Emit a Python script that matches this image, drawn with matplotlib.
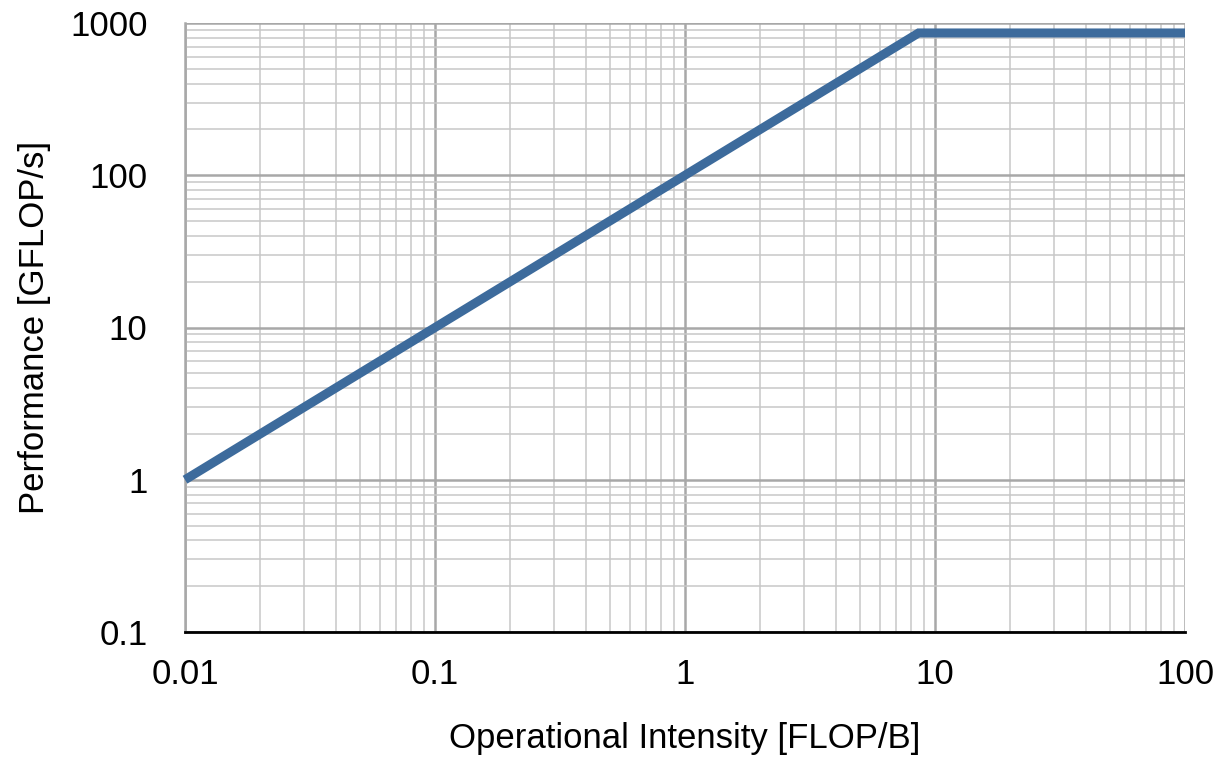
import numpy as np
import matplotlib
matplotlib.use("Agg")
import matplotlib.pyplot as plt
from matplotlib.ticker import LogLocator, FixedLocator, NullFormatter

# roofline: memory bound slope then compute ceiling
intensity = [0.01, 8.6, 100]
performance = [1, 860, 860]

x_ticks = [0.01, 0.1, 1, 10, 100]
x_labels = ["0.01", "0.1", "1", "10", "100"]
y_ticks = [0.1, 1, 10, 100, 1000]
y_labels = ["0.1", "1", "10", "100", "1000"]

plt.rcParams['font.family'] = ['Liberation Sans', 'DejaVu Sans']

fig = plt.figure(figsize=(12.29, 7.58), dpi=100)
ax = fig.add_axes([185/1229, 1-632/758, 1000/1229, 609/758])

ax.plot(intensity, performance, color='#3d6b9c', lw=6.5, solid_joinstyle='miter',
        solid_capstyle='butt', zorder=5, clip_on=False)

ax.set_xscale('log')
ax.set_yscale('log')
ax.set_xlim(0.01, 100)
ax.set_ylim(0.1, 1000)

ax.xaxis.set_major_locator(FixedLocator(x_ticks))
ax.set_xticklabels(x_labels)
ax.yaxis.set_major_locator(FixedLocator(y_ticks))
ax.set_yticklabels(y_labels)
ax.xaxis.set_minor_locator(LogLocator(base=10, subs=np.arange(2, 10)))
ax.yaxis.set_minor_locator(LogLocator(base=10, subs=np.arange(2, 10)))
ax.xaxis.set_minor_formatter(NullFormatter())
ax.yaxis.set_minor_formatter(NullFormatter())

ax.grid(which='major', color='#a8a8a8', lw=1.8)
ax.grid(which='minor', color='#c8c8c8', lw=1.1)
ax.set_axisbelow(True)

ax.tick_params(which='both', length=0)
ax.tick_params(axis='x', labelsize=25, pad=19)
ax.tick_params(axis='y', labelsize=25, pad=27)

for side in ['top', 'right']:
    ax.spines[side].set_visible(False)
ax.spines['left'].set_color('#a8a8a8')
ax.spines['left'].set_linewidth(1.8)
ax.spines['bottom'].set_color('black')
ax.spines['bottom'].set_linewidth(2)
ax.spines['bottom'].set_zorder(6)

ax.set_xlabel('Operational Intensity [FLOP/B]', fontsize=25, labelpad=22)
ax.set_ylabel('Performance [GFLOP/s]', fontsize=25, labelpad=14)

fig.savefig('out.png', dpi=100)
